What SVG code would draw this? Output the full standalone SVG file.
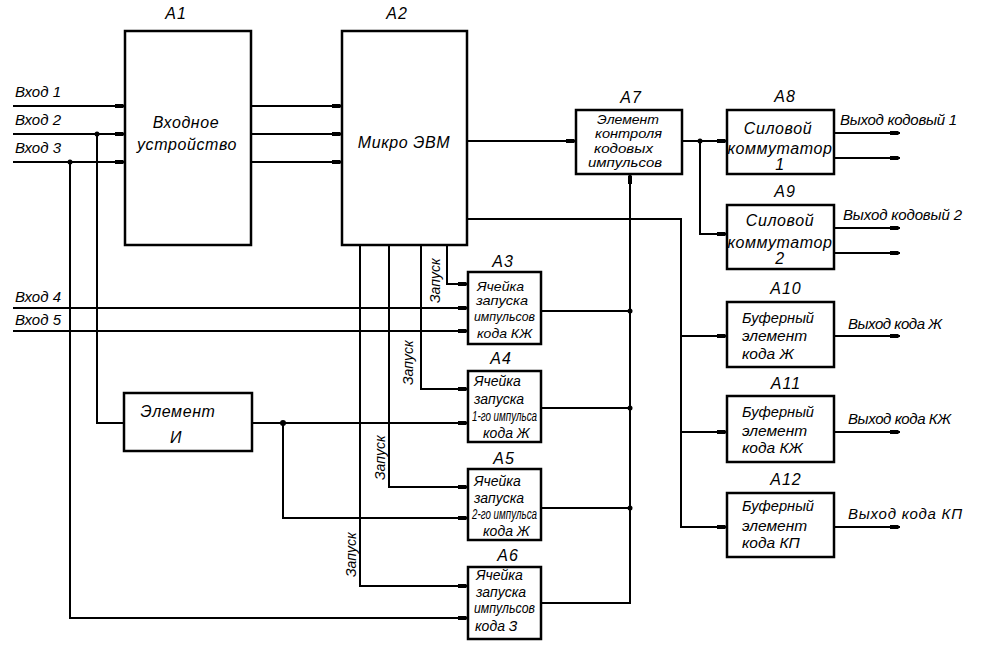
<svg xmlns="http://www.w3.org/2000/svg" width="984" height="654" viewBox="0 0 984 654">
<defs>
<marker id="ar" markerUnits="userSpaceOnUse" markerWidth="12" markerHeight="8" refX="11" refY="4" orient="auto">
<path d="M1,2 H9 L11,4 L9,6 H1 Z" fill="#000"/>
</marker>
</defs>
<style>
.box{fill:#fff;stroke:#000;stroke-width:2.5}
.ln{fill:none;stroke:#000;stroke-width:2}
.a{marker-end:url(#ar)}
text{font-family:"Liberation Sans","DejaVu Sans",sans-serif;font-style:italic;fill:#000}
.t{font-size:15px}
.lb{font-size:16px;text-anchor:middle;letter-spacing:1px}
.bt{font-size:16px;text-anchor:middle;letter-spacing:0.6px}
.bf{font-size:15.5px}
.st{font-size:14px}
.s3{font-size:13px}
.sm{font-size:12.5px}
.zp{font-size:14px}
.dot{fill:#000}
</style>
<rect width="984" height="654" fill="#fff"/>

<g id="connectors">
<path class="ln a" d="M13,106 H125"/>
<path class="ln a" d="M13,134 H125"/>
<path class="ln a" d="M13,162 H125"/>
<path class="ln" d="M97,134 V423 H124"/>
<path class="ln a" d="M70,162 V618 H468"/>
<path class="ln a" d="M13,308 H468"/>
<path class="ln a" d="M13,331 H468"/>
<path class="ln a" d="M252,106 H342"/>
<path class="ln a" d="M252,134 H342"/>
<path class="ln a" d="M252,162 H342"/>
<path class="ln a" d="M467,141 H576"/>
<path class="ln a" d="M467,219 H681 V527 H727"/>
<path class="ln a" d="M681,336 H727"/>
<path class="ln a" d="M681,432 H727"/>
<path class="ln a" d="M360,245 V586 H468"/>
<path class="ln a" d="M389,245 V487 H468"/>
<path class="ln a" d="M421,245 V389 H468"/>
<path class="ln a" d="M447,245 V284 H468"/>
<path class="ln a" d="M252,423 H468"/>
<path class="ln a" d="M283,423 V518 H468"/>
<path class="ln" d="M541,311 H630"/>
<path class="ln" d="M541,408 H630"/>
<path class="ln" d="M541,508 H630"/>
<path class="ln a" d="M541,603 H630 V174"/>
<path class="ln a" d="M682,141 H727"/>
<path class="ln a" d="M700,141 V234 H727"/>
<path class="ln a" d="M834,133 H900"/>
<path class="ln a" d="M834,158 H900"/>
<path class="ln a" d="M834,228 H900"/>
<path class="ln a" d="M834,253 H900"/>
<path class="ln a" d="M834,336 H900"/>
<path class="ln a" d="M834,432 H900"/>
<path class="ln a" d="M834,527 H900"/>
<circle class="dot" cx="97" cy="134" r="2.5"/>
<circle class="dot" cx="70" cy="162" r="2.5"/>
<circle class="dot" cx="283" cy="423" r="3"/>
<circle class="dot" cx="630" cy="311" r="2.5"/>
<circle class="dot" cx="630" cy="408" r="2.5"/>
<circle class="dot" cx="630" cy="508" r="2.5"/>
<circle class="dot" cx="700" cy="141" r="2.5"/>
<text class="t" x="15" y="97">Вход 1</text>
<text class="t" x="15" y="125">Вход 2</text>
<text class="t" x="15" y="153">Вход 3</text>
<text class="t" x="15" y="302">Вход 4</text>
<text class="t" x="15" y="325">Вход 5</text>
<text class="zp" transform="translate(440,303) rotate(-90)">Запуск</text>
<text class="zp" transform="translate(413,385) rotate(-90)">Запуск</text>
<text class="zp" transform="translate(385,480) rotate(-90)">Запуск</text>
<text class="zp" transform="translate(356,577) rotate(-90)">Запуск</text>
<text class="t" x="840" y="125" textLength="117" lengthAdjust="spacing">Выход кодовый 1</text>
<text class="t" x="843" y="220" textLength="119" lengthAdjust="spacing">Выход кодовый 2</text>
<text class="t" x="848" y="329" textLength="94" lengthAdjust="spacing">Выход кода Ж</text>
<text class="t" x="848" y="424" textLength="103" lengthAdjust="spacing">Выход кода КЖ</text>
<text class="t" x="848" y="519" textLength="114" lengthAdjust="spacing">Выход  кода  КП</text>
</g>

<g id="A1">
<rect class="box" x="125" y="31" width="126" height="214"/>
<text class="lb" x="176" y="19">A1</text>
<text class="bt" x="186" y="128">Входное</text>
<text class="bt" x="187" y="150">устройство</text>
</g>
<g id="A2">
<rect class="box" x="342" y="31" width="125" height="214"/>
<text class="lb" x="397" y="19">A2</text>
<text class="bt" x="404" y="148">Микро ЭВМ</text>
</g>
<g id="A7">
<rect class="box" x="576" y="110" width="106" height="64"/>
<text class="lb" x="631" y="103">A7</text>
<text class="sm" x="597" y="124" textLength="62" lengthAdjust="spacingAndGlyphs">Элемент</text>
<text class="sm" x="595" y="138" textLength="67" lengthAdjust="spacingAndGlyphs">контроля</text>
<text class="sm" x="594" y="153" textLength="59" lengthAdjust="spacingAndGlyphs">кодовых</text>
<text class="sm" x="588" y="167" textLength="74" lengthAdjust="spacingAndGlyphs">импульсов</text>
</g>
<g id="A8">
<rect class="box" x="727" y="110" width="107" height="64"/>
<text class="lb" x="785" y="102">A8</text>
<text class="bt" x="778" y="134">Силовой</text>
<text class="bt" x="780" y="154">коммутатор</text>
<text class="bt" x="780" y="170">1</text>
</g>
<g id="A9">
<rect class="box" x="727" y="205" width="107" height="64"/>
<text class="lb" x="785" y="197">A9</text>
<text class="bt" x="780" y="226">Силовой</text>
<text class="bt" x="780" y="248">коммутатор</text>
<text class="bt" x="780" y="264">2</text>
</g>
<g id="A10">
<rect class="box" x="727" y="302" width="107" height="65"/>
<text class="lb" x="786" y="294">A10</text>
<text class="bf" x="742" y="323" textLength="72" lengthAdjust="spacingAndGlyphs">Буферный</text>
<text class="bf" x="742" y="341">элемент</text>
<text class="bf" x="742" y="359">кода Ж</text>
</g>
<g id="A11">
<rect class="box" x="727" y="396" width="107" height="66"/>
<text class="lb" x="786" y="389">A11</text>
<text class="bf" x="742" y="417" textLength="72" lengthAdjust="spacingAndGlyphs">Буферный</text>
<text class="bf" x="742" y="436">элемент</text>
<text class="bf" x="742" y="453">кода КЖ</text>
</g>
<g id="A12">
<rect class="box" x="727" y="493" width="107" height="64"/>
<text class="lb" x="786" y="485">A12</text>
<text class="bf" x="742" y="511" textLength="72" lengthAdjust="spacingAndGlyphs">Буферный</text>
<text class="bf" x="742" y="531">элемент</text>
<text class="bf" x="742" y="548">кода КП</text>
</g>
<g id="A3">
<rect class="box" x="468" y="272" width="73" height="72"/>
<text class="lb" x="503" y="267">A3</text>
<text class="s3" x="477" y="291" textLength="47" lengthAdjust="spacingAndGlyphs">Ячейка</text>
<text class="s3" x="476" y="305" textLength="52" lengthAdjust="spacingAndGlyphs">запуска</text>
<text class="s3" x="474" y="321" textLength="61" lengthAdjust="spacingAndGlyphs">импульсов</text>
<text class="s3" x="477" y="338" textLength="55" lengthAdjust="spacingAndGlyphs">кода КЖ</text>
</g>
<g id="A4">
<rect class="box" x="468" y="371" width="73" height="71"/>
<text class="lb" x="501" y="364">A4</text>
<text class="st" x="474" y="386">Ячейка</text>
<text class="st" x="474" y="404">запуска</text>
<text class="st" x="472" y="421" textLength="65" lengthAdjust="spacingAndGlyphs">1-го импульса</text>
<text class="st" x="483" y="438">кода Ж</text>
</g>
<g id="A5">
<rect class="box" x="468" y="469" width="73" height="71"/>
<text class="lb" x="504" y="464">A5</text>
<text class="st" x="474" y="486">Ячейка</text>
<text class="st" x="474" y="503">запуска</text>
<text class="st" x="472" y="519" textLength="65" lengthAdjust="spacingAndGlyphs">2-го импульса</text>
<text class="st" x="483" y="536">кода Ж</text>
</g>
<g id="A6">
<rect class="box" x="468" y="567" width="73" height="72"/>
<text class="lb" x="508" y="561">A6</text>
<text class="st" x="476" y="580">Ячейка</text>
<text class="st" x="476" y="597">запуска</text>
<text class="st" x="474" y="613" textLength="61" lengthAdjust="spacingAndGlyphs">импульсов</text>
<text class="st" x="475" y="631">кода З</text>
</g>
<g id="AND">
<rect class="box" x="124" y="393" width="128" height="58"/>
<text class="bt" x="178" y="417">Элемент</text>
<text class="bt" x="176" y="443">И</text>
</g>
</svg>
